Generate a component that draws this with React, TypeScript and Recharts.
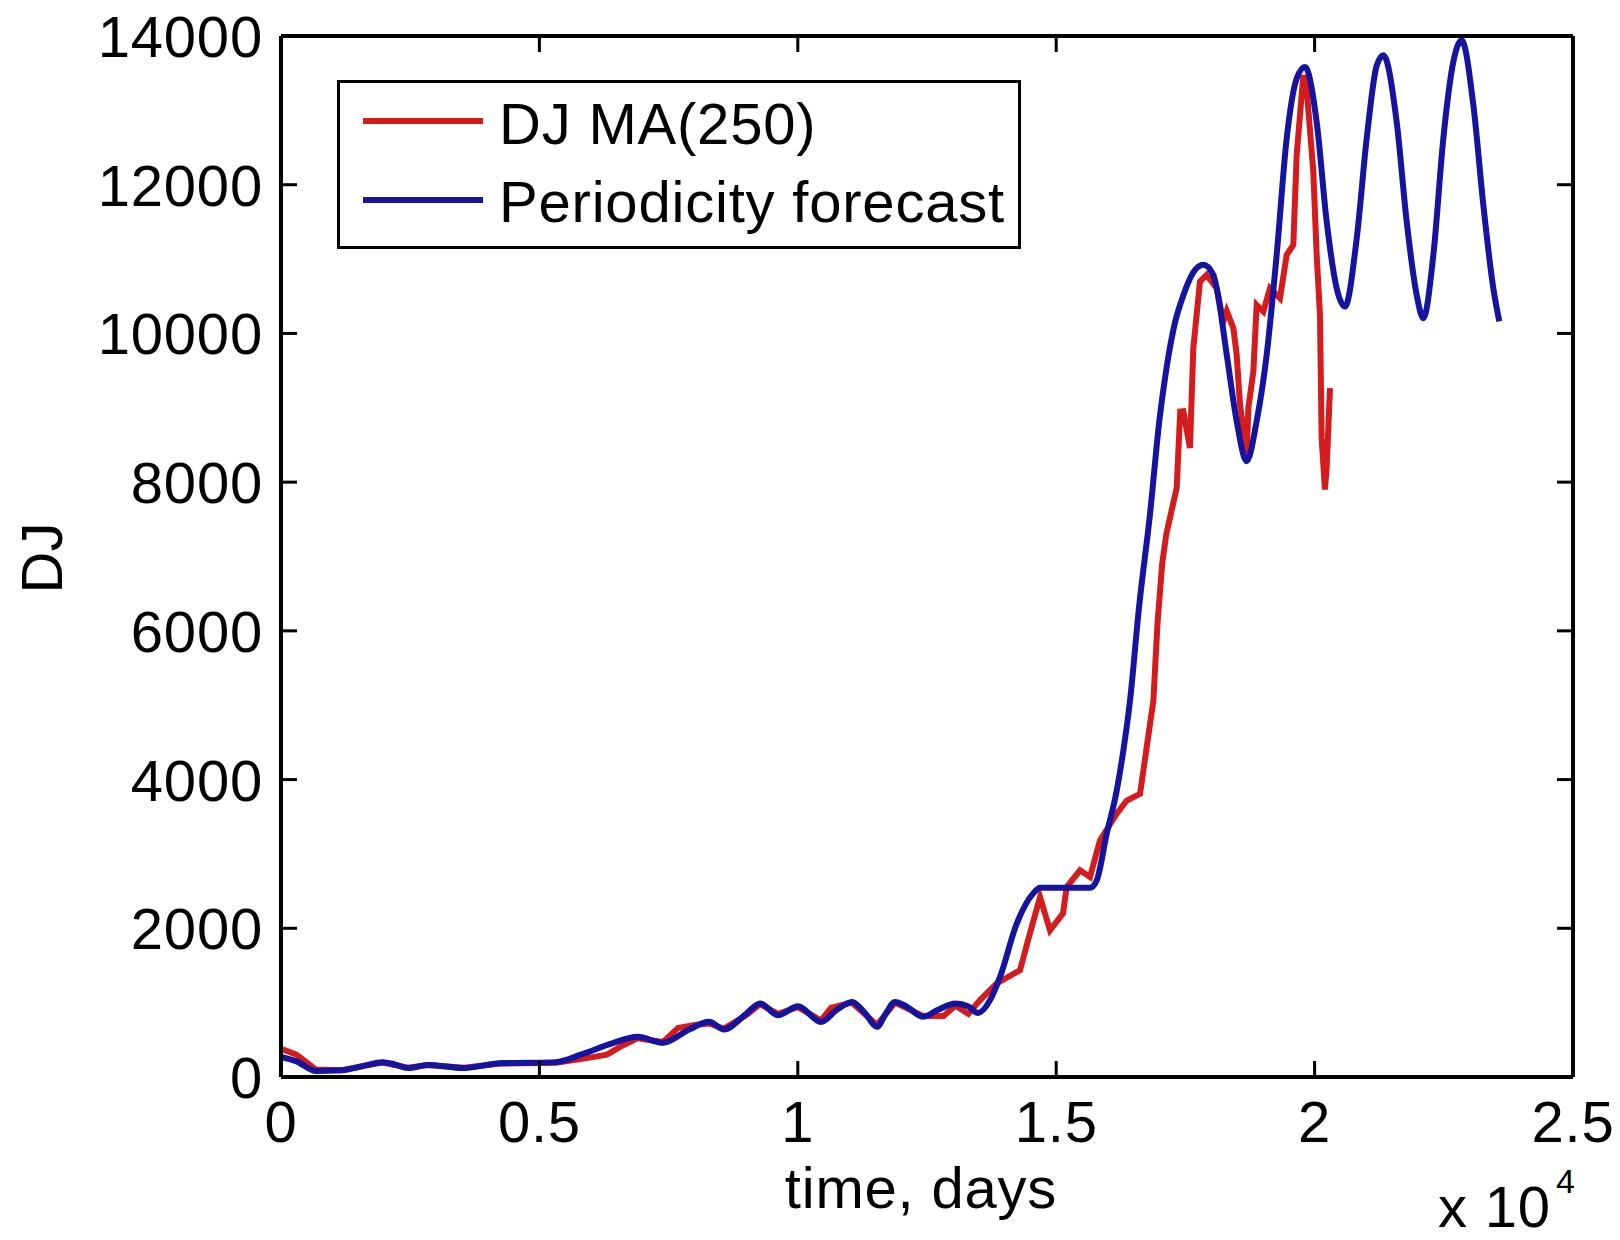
import React from 'react';
import { LineChart, Line, XAxis, YAxis } from 'recharts';

// ---- data ----
const xTicks = [0, 5000, 10000, 15000, 20000, 25000];
const xTickLabels = ['0', '0.5', '1', '1.5', '2', '2.5'];
const yTicks = [0, 2000, 4000, 6000, 8000, 10000, 12000, 14000];
const seriesNames = ['DJ MA(250)', 'Periodicity forecast'];

const djT = [0, 300, 677, 1170, 1600, 1962, 2457, 2845, 3541, 4238, 5321, 5800, 6308, 6600, 6898, 7392, 7682, 8000, 8282, 8572, 9000, 9269, 9617, 10004, 10449, 10642, 11048, 11533, 11882, 12423, 12822, 13050, 13300, 13526, 13848, 14300, 14455, 14687, 14880, 15132, 15203, 15460, 15654, 15847, 16171, 16364, 16622, 16751, 16880, 16960, 17050, 17130, 17202, 17331, 17400, 17460, 17589, 17653, 17782, 17911, 18105, 18234, 18300, 18428, 18492, 18557, 18686, 18718, 18815, 18879, 19008, 19137, 19330, 19460, 19588, 19653, 19782, 19846, 19975, 20040, 20104, 20136, 20200, 20234, 20298];
const djV = [380, 300, 100, 90, 150, 195, 125, 160, 125, 180, 190, 240, 300, 420, 520, 470, 660, 700, 720, 650, 830, 980, 850, 940, 760, 930, 1000, 700, 1000, 820, 820, 960, 850, 1034, 1258, 1436, 1839, 2420, 1973, 2201, 2554, 2779, 2689, 3181, 3540, 3718, 3808, 4434, 5060, 6100, 6900, 7300, 7521, 7924, 8950, 8953, 8460, 9803, 10698, 10788, 10608, 10161, 10300, 10072, 9714, 9043, 8372, 8998, 9490, 10385, 10295, 10608, 10474, 11056, 11190, 12398, 13472, 13293, 12174, 11056, 10251, 8595, 7900, 8200, 9266];

const fcT = [0, 300, 677, 1170, 1600, 1962, 2200, 2457, 2845, 3200, 3541, 4238, 4800, 5321, 5800, 6405, 6898, 7392, 7900, 8282, 8572, 9000, 9269, 9617, 10004, 10449, 10750, 11048, 11300, 11533, 11700, 11882, 12100, 12423, 12700, 13050, 13300, 13487, 13720, 13913, 14236, 14551, 14687, 15654, 15784, 15977, 16171, 16299, 16428, 16600, 16815, 17000, 17138, 17300, 17454, 17653, 17847, 18041, 18105, 18300, 18492, 18686, 18879, 19073, 19266, 19460, 19653, 19814, 20040, 20234, 20427, 20588, 20815, 21008, 21201, 21330, 21588, 21782, 21975, 22103, 22298, 22491, 22684, 22846, 23072, 23265, 23458, 23574];
const fcV = [270, 210, 80, 90, 150, 200, 170, 120, 160, 140, 120, 185, 190, 200, 300, 452, 540, 460, 640, 742, 640, 850, 990, 830, 950, 740, 900, 1010, 860, 675, 850, 1010, 950, 810, 900, 990, 950, 860, 1034, 1346, 2063, 2466, 2546, 2546, 2644, 3271, 3852, 4389, 5060, 6300, 7570, 8850, 9550, 10150, 10500, 10820, 10923, 10788, 10608, 9714, 8820, 8282, 8820, 9714, 11056, 12622, 13427, 13584, 12846, 11503, 10608, 10362, 11279, 12622, 13600, 13741, 12846, 11503, 10519, 10205, 11056, 12622, 13651, 13942, 13070, 11727, 10608, 10161];

const djData = djT.map((t, i) => ({ t, v: djV[i] }));
const fcData = fcT.map((t, i) => ({ t, v: fcV[i] }));

const RED = '#d41c1c';
const BLUE = '#1414a0';
const FONT = '"Liberation Sans", Arial, Helvetica, sans-serif';
const FS = 58;
const LS = 0.8;
const TICK = 16;

const BottomTick = (props: any) => {
  const { x, y, payload } = props;
  const idx = xTicks.indexOf(payload.value);
  return (
    <g>
      <line x1={x} y1={y} x2={x} y2={y - TICK} stroke="#000" strokeWidth={3} />
      <text x={x} y={y + 65} textAnchor="middle" fontFamily={FONT} fontSize={FS} letterSpacing={LS} fill="#000">
        {idx >= 0 ? xTickLabels[idx] : String(payload.value)}
      </text>
    </g>
  );
};

const TopTick = (props: any) => {
  const { x, y } = props;
  return <line x1={x} y1={y} x2={x} y2={y + TICK} stroke="#000" strokeWidth={3} />;
};

const LeftTick = (props: any) => {
  const { x, y, payload } = props;
  return (
    <g>
      <line x1={x} y1={y} x2={x + TICK} y2={y} stroke="#000" strokeWidth={3} />
      <text x={x - 18} y={y + 21} textAnchor="end" fontFamily={FONT} fontSize={FS} letterSpacing={LS} fill="#000">
        {String(payload.value)}
      </text>
    </g>
  );
};

const RightTick = (props: any) => {
  const { x, y } = props;
  return <line x1={x} y1={y} x2={x - TICK} y2={y} stroke="#000" strokeWidth={3} />;
};

export default function App() {
  return (
    <div style={{ position: 'absolute', left: 0, top: 0, width: 1620, height: 1240, background: '#fff' }}>
      <LineChart
        width={1620}
        height={1240}
        margin={{ top: 16, right: 27, left: 221, bottom: 103 }}
      >
        <XAxis
          xAxisId="b"
          dataKey="t"
          type="number"
          domain={[0, 25000]}
          ticks={xTicks}
          allowDataOverflow
          orientation="bottom"
          height={60}
          tickSize={0}
          tickMargin={0}
          tickLine={false}
          axisLine={{ stroke: '#000', strokeWidth: 4 }}
          tick={<BottomTick />}
          interval={0}
        />
        <XAxis
          xAxisId="top"
          dataKey="t"
          type="number"
          domain={[0, 25000]}
          ticks={xTicks}
          allowDataOverflow
          orientation="top"
          height={20}
          tickSize={0}
          tickMargin={0}
          tickLine={false}
          axisLine={{ stroke: '#000', strokeWidth: 4 }}
          tick={<TopTick />}
          interval={0}
        />
        <YAxis
          yAxisId="l"
          type="number"
          domain={[0, 14000]}
          ticks={yTicks}
          allowDataOverflow
          orientation="left"
          width={60}
          tickSize={0}
          tickMargin={0}
          tickLine={false}
          axisLine={{ stroke: '#000', strokeWidth: 4 }}
          tick={<LeftTick />}
          interval={0}
        />
        <YAxis
          yAxisId="r"
          type="number"
          domain={[0, 14000]}
          ticks={yTicks}
          allowDataOverflow
          orientation="right"
          width={20}
          tickSize={0}
          tickMargin={0}
          tickLine={false}
          axisLine={{ stroke: '#000', strokeWidth: 4 }}
          tick={<RightTick />}
          interval={0}
        />
        <Line
          xAxisId="b"
          yAxisId="l"
          data={djData}
          dataKey="v"
          type="linear"
          stroke={RED}
          strokeWidth={6}
          dot={false}
          activeDot={false}
          isAnimationActive={false}
          name={seriesNames[0]}
        />
        <Line
          xAxisId="b"
          yAxisId="l"
          data={fcData}
          dataKey="v"
          type="monotone"
          stroke={BLUE}
          strokeWidth={6}
          dot={false}
          activeDot={false}
          isAnimationActive={false}
          name={seriesNames[1]}
        />
      </LineChart>
      <div style={{ position: 'absolute', left: 0, top: 0, width: 1620, height: 1240, pointerEvents: 'none' }}>
        <svg width={1620} height={1240}>
          <g transform="translate(337 80)">
            <rect x={1.5} y={1.5} width={681} height={166} fill="#fff" stroke="#000" strokeWidth={3} />
            <line x1={26} y1={41} x2={146} y2={41} stroke={RED} strokeWidth={6} />
            <text x={162} y={64} fontFamily={FONT} fontSize={FS} letterSpacing={LS} fill="#000">{seriesNames[0]}</text>
            <line x1={26} y1={120} x2={146} y2={120} stroke={BLUE} strokeWidth={6} />
            <text x={162} y={142} fontFamily={FONT} fontSize={FS} letterSpacing={LS} fill="#000">{seriesNames[1]}</text>
          </g>
          <text x={921} y={1208} textAnchor="middle" fontFamily={FONT} fontSize={FS} letterSpacing={LS} fill="#000">time, days</text>
          <text x={62} y={558} textAnchor="middle" fontFamily={FONT} fontSize={FS} fill="#000" transform="rotate(-90 62 558)">DJ</text>
          <text x={1438} y={1227} fontFamily={FONT} fontSize={FS} letterSpacing={LS} fill="#000">x 10</text>
          <text x={1556} y={1193} fontFamily={FONT} fontSize={34} fill="#000">4</text>
        </svg>
      </div>
    </div>
  );
}
